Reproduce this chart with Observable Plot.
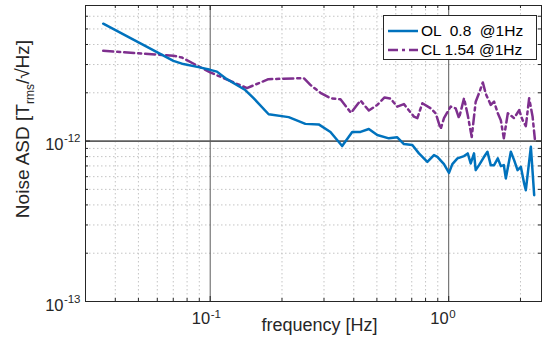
<!DOCTYPE html>
<html>
<head>
<meta charset="utf-8">
<script src="https://cdn.jsdelivr.net/npm/d3@7"></script>
<script src="https://cdn.jsdelivr.net/npm/@observablehq/plot@0.6"></script>
<style>
  html, body { margin: 0; padding: 0; background: #fff; }
  #wrap { position: relative; width: 542px; height: 342px; font-family: "Liberation Sans", Arial, Helvetica, sans-serif; color: #262626; }
  #wrap svg text { white-space: pre; }
  .ylab { position: absolute; left: 24px; top: 129px; transform: translate(-50%, -50%) rotate(-90deg); font-size: 19px; white-space: nowrap; color: #262626; }
  .ylab sub { font-size: 12px; vertical-align: -5px; }
  .legend { position: absolute; left: 383px; top: 15px; width: 154px; height: 45px; border: 1px solid #262626; background: #fff; box-sizing: border-box; }
  .legend .row { position: absolute; left: 4px; height: 18px; display: flex; align-items: center; font-size: 15.5px; white-space: pre; color: #000; }
  .legend svg { margin-right: 3px; }
</style>
</head>
<body>
<div id="wrap"></div>
<script>
// ---- data ----
const olFreq = [0.0356, 0.0701, 0.0772, 0.0893, 0.100, 0.1067, 0.1156, 0.1403, 0.152, 0.1758, 0.2133, 0.2507, 0.2851, 0.3193, 0.3575, 0.394, 0.4268, 0.4625, 0.5017, 0.5613, 0.6087, 0.649, 0.7039, 0.7503, 0.8138, 0.8675, 0.8964, 0.9556, 1.003, 1.036, 1.088, 1.16, 1.202, 1.237, 1.277, 1.298, 1.341, 1.407, 1.454, 1.501, 1.55, 1.607, 1.654, 1.703, 1.736, 1.822, 1.881, 1.944, 2.007, 2.072, 2.106, 2.211, 2.283];
const olASD = [5.39e-12, 3.16e-12, 3.02e-12, 2.89e-12, 2.78e-12, 2.71e-12, 2.47e-12, 2.08e-12, 1.85e-12, 1.47e-12, 1.41e-12, 1.28e-12, 1.27e-12, 1.14e-12, 0.931e-12, 1.14e-12, 1.14e-12, 1.19e-12, 1.09e-12, 1.04e-12, 1.055e-12, 0.958e-12, 0.944e-12, 0.838e-12, 0.742e-12, 0.818e-12, 0.798e-12, 0.718e-12, 0.634e-12, 0.718e-12, 0.78e-12, 0.806e-12, 0.838e-12, 0.725e-12, 0.838e-12, 0.659e-12, 0.708e-12, 0.798e-12, 0.857e-12, 0.708e-12, 0.708e-12, 0.78e-12, 0.698e-12, 0.708e-12, 0.585e-12, 0.857e-12, 0.761e-12, 0.659e-12, 0.691e-12, 0.544e-12, 0.494e-12, 0.921e-12, 0.46e-12];
const clFreq = [0.0356, 0.0701, 0.076, 0.1, 0.1137, 0.1426, 0.1753, 0.2466, 0.263, 0.2899, 0.3193, 0.3517, 0.3894, 0.4268, 0.4625, 0.5017, 0.5384, 0.5705, 0.6087, 0.649, 0.7149, 0.7388, 0.7754, 0.8403, 0.8819, 0.9256, 0.9556, 1.019, 1.07, 1.105, 1.16, 1.202, 1.249, 1.298, 1.341, 1.39, 1.431, 1.501, 1.55, 1.607, 1.654, 1.703, 1.77, 1.881, 1.975, 2.041, 2.106, 2.175, 2.248, 2.298];
const clASD = [3.65e-12, 3.40e-12, 3.32e-12, 2.68e-12, 2.47e-12, 2.14e-12, 2.43e-12, 2.47e-12, 2.24e-12, 2.00e-12, 1.85e-12, 1.82e-12, 1.50e-12, 1.79e-12, 1.55e-12, 1.68e-12, 1.87e-12, 1.84e-12, 1.64e-12, 1.70e-12, 1.42e-12, 1.39e-12, 1.72e-12, 1.60e-12, 1.49e-12, 1.19e-12, 1.39e-12, 1.64e-12, 1.60e-12, 1.39e-12, 1.85e-12, 1.45e-12, 1.06e-12, 1.76e-12, 1.99e-12, 2.32e-12, 1.97e-12, 1.68e-12, 1.76e-12, 1.49e-12, 1.35e-12, 1.04e-12, 1.49e-12, 1.39e-12, 1.56e-12, 1.35e-12, 1.24e-12, 1.85e-12, 1.42e-12, 1.03e-12];

const seriesLabels = ["OL  0.8  @1Hz", "CL 1.54 @1Hz"];
const seriesColors = ["#0072BD", "#7E2F8E"];

const xDomain = [0.03, 2.45];
const yDomain = [1e-13, 7e-12];
const xMajorExp = [-1, 0];
const yMajorExp = [-13, -12];
const xMinor = [0.04, 0.05, 0.06, 0.07, 0.08, 0.09, 0.2, 0.3, 0.4, 0.5, 0.6, 0.7, 0.8, 0.9, 2];
const yMinor = [2e-13, 3e-13, 4e-13, 5e-13, 6e-13, 7e-13, 8e-13, 9e-13, 2e-12, 3e-12, 4e-12, 5e-12, 6e-12];
const xLabel = "frequency [Hz]";

const ol = olFreq.map((f, i) => ({f, v: olASD[i]}));
const cl = clFreq.map((f, i) => ({f, v: clASD[i]}));

const W = 542, H = 342, mL = 85, mR = 1, mT = 5, mB = 41;
const fh = H - mT - mB, fw = W - mL - mR;
const xMajorVals = xMajorExp.map(e => 10 ** e);
const yMajorVals = yMajorExp.map(e => 10 ** e);
const font = "Liberation Sans, Arial, Helvetica, sans-serif";
const axisCol = "#262626";
const clDash = "10,4,3,4";
const lw = 2.5;

const chart = Plot.plot({
  width: W, height: H,
  marginLeft: mL, marginRight: mR, marginTop: mT, marginBottom: mB,
  x: {type: "log", domain: xDomain, axis: null},
  y: {type: "log", domain: yDomain, axis: null},
  style: {fontFamily: font, background: "white", overflow: "visible", color: axisCol},
  marks: [
    // minor grid
    Plot.ruleX(xMinor, {stroke: "#c4c4c4", strokeWidth: 1, strokeDasharray: "1.5,2.5"}),
    Plot.ruleY(yMinor, {stroke: "#c4c4c4", strokeWidth: 1, strokeDasharray: "1.5,2.5"}),
    // major grid
    Plot.ruleX(xMajorVals, {stroke: "#5a5a5a", strokeWidth: 1}),
    Plot.ruleY(yMajorVals.filter(v => v > yDomain[0]), {stroke: "#5e5e5e", strokeWidth: 1.8}),
    // data
    Plot.line(cl, {x: "f", y: "v", stroke: seriesColors[1], strokeWidth: lw, strokeDasharray: clDash, strokeLinejoin: "round"}),
    Plot.line(ol, {x: "f", y: "v", stroke: seriesColors[0], strokeWidth: lw, strokeLinejoin: "round"}),
    Plot.frame({stroke: axisCol, strokeWidth: 1}),
    // inward ticks (bottom/top)
    Plot.tickX(xMinor, {stroke: axisCol, insetTop: fh - 3}),
    Plot.tickX(xMinor, {stroke: axisCol, insetBottom: fh - 3}),
    Plot.tickX(xMajorVals, {stroke: axisCol, insetTop: fh - 5}),
    Plot.tickX(xMajorVals, {stroke: axisCol, insetBottom: fh - 5}),
    // inward ticks (left/right)
    Plot.tickY(yMinor, {stroke: axisCol, insetRight: fw - 3}),
    Plot.tickY(yMinor, {stroke: axisCol, insetLeft: fw - 3}),
    Plot.tickY(yMajorVals, {stroke: axisCol, insetRight: fw - 5}),
    Plot.tickY(yMajorVals, {stroke: axisCol, insetLeft: fw - 5}),
    // x tick labels
    Plot.text(xMajorExp, {x: d => 10 ** d, frameAnchor: "bottom", text: () => "10", textAnchor: "end", dy: 22, fontSize: 16.5, fill: axisCol}),
    Plot.text(xMajorExp, {x: d => 10 ** d, frameAnchor: "bottom", text: d => d < 0 ? "-" + Math.abs(d) : String(d), textAnchor: "start", dx: 0.5, dy: 16, fontSize: 11.5, fill: axisCol}),
    // y tick labels
    Plot.text(yMajorExp, {y: d => 10 ** d, frameAnchor: "left", text: () => "10", textAnchor: "end", dx: -22, dy: 4, fontSize: 16.5, fill: axisCol}),
    Plot.text(yMajorExp, {y: d => 10 ** d, frameAnchor: "left", text: d => "-" + Math.abs(d), textAnchor: "end", dx: -5, dy: -2.5, fontSize: 11.5, fill: axisCol}),
    // x axis title
    Plot.text([xLabel], {frameAnchor: "bottom", text: d => d, dx: 6, dy: 29, fontSize: 18, fill: axisCol})
  ]
});

const wrap = document.getElementById("wrap");
wrap.appendChild(chart);

const ylab = document.createElement("div");
ylab.className = "ylab";
ylab.innerHTML = "Noise ASD [T<sub>rms</sub>/\u221AHz]";
wrap.appendChild(ylab);

const leg = document.createElement("div");
leg.className = "legend";
const dashes = [null, clDash];
seriesLabels.forEach((lab, i) => {
  const row = document.createElement("div");
  row.className = "row";
  row.style.top = (i === 0 ? 6 : 25) + "px";
  const svgNS = "http://www.w3.org/2000/svg";
  const s = document.createElementNS(svgNS, "svg");
  s.setAttribute("width", 30); s.setAttribute("height", 6);
  const ln = document.createElementNS(svgNS, "line");
  ln.setAttribute("x1", 0); ln.setAttribute("x2", 30); ln.setAttribute("y1", 3); ln.setAttribute("y2", 3);
  ln.setAttribute("stroke", seriesColors[i]); ln.setAttribute("stroke-width", lw);
  if (dashes[i]) ln.setAttribute("stroke-dasharray", dashes[i]);
  s.appendChild(ln);
  row.appendChild(s);
  const t = document.createElement("span");
  t.textContent = lab;
  row.appendChild(t);
  leg.appendChild(row);
});
wrap.appendChild(leg);
</script>
</body>
</html>
